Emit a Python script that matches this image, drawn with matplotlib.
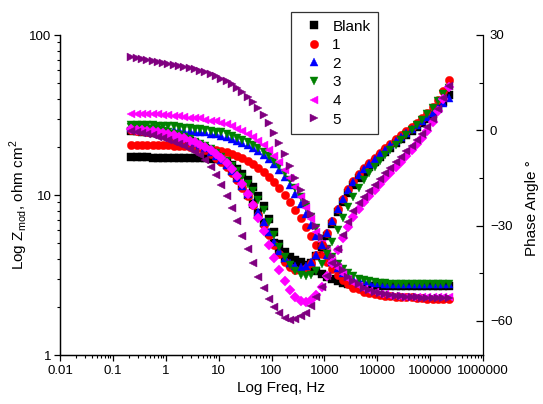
import matplotlib
matplotlib.use("Agg")
import matplotlib.pyplot as plt
from matplotlib.ticker import MultipleLocator, LogLocator, NullFormatter

plt.rcParams["font.family"] = ["Liberation Sans", "DejaVu Sans"]
plt.rcParams["mathtext.fontset"] = "custom"
plt.rcParams["mathtext.rm"] = "Liberation Sans"

# Frequency sweep, Hz
freq = [0.224, 0.282, 0.355, 0.447, 0.562, 0.708, 0.891, 1.12, 1.41, 1.78,
        2.24, 2.82, 3.55, 4.47, 5.62, 7.08, 8.91, 11.2, 14.1, 17.8,
        22.4, 28.2, 35.5, 44.7, 56.2, 70.8, 89.1, 112, 141, 178,
        224, 282, 355, 447, 562, 708, 891, 1120, 1410, 1780,
        2240, 2820, 3550, 4470, 5620, 7080, 8910, 11200, 14100, 17800,
        22400, 28200, 35500, 44700, 56200, 70800, 89100, 112000, 141000, 178000,
        224000]

# |Z|, ohm cm2
zmod_blank = [17.2, 17.2, 17.2, 17.2, 17.1, 17.1, 17.1, 17.1, 17.1, 17.1,
              17.1, 17.0, 17.0, 17.0, 17.0, 16.9, 16.7, 16.6, 16.1, 15.4,
              14.6, 13.6, 12.4, 11.2, 9.86, 8.53, 7.07, 5.86, 4.92, 4.38,
              4.08, 3.91, 3.79, 3.63, 3.48, 3.33, 3.19, 3.06, 2.97, 2.88,
              2.80, 2.76, 2.72, 2.70, 2.70, 2.70, 2.70, 2.70, 2.70, 2.70,
              2.70, 2.70, 2.70, 2.70, 2.70, 2.70, 2.70, 2.70, 2.70, 2.70,
              2.70]
zmod_1 = [20.6, 20.6, 20.6, 20.6, 20.6, 20.5, 20.5, 20.5, 20.3, 20.3,
          20.2, 20.0, 19.9, 19.8, 19.6, 19.5, 19.2, 18.9, 18.5, 18.1,
          17.6, 17.1, 16.4, 15.7, 14.8, 14.0, 13.0, 12.1, 11.1, 10.0,
          9.04, 8.05, 7.17, 6.30, 5.53, 4.85, 4.26, 3.79, 3.43, 3.15,
          2.93, 2.76, 2.64, 2.57, 2.49, 2.44, 2.41, 2.37, 2.35, 2.34,
          2.32, 2.30, 2.29, 2.29, 2.27, 2.27, 2.25, 2.25, 2.25, 2.25,
          2.25]
zmod_2 = [26.0, 26.0, 26.0, 26.0, 26.0, 25.8, 25.8, 25.6, 25.6, 25.5,
          25.3, 25.1, 24.9, 24.7, 24.6, 24.2, 23.9, 23.5, 23.0, 22.5,
          21.9, 21.2, 20.5, 19.8, 18.8, 17.9, 16.9, 15.7, 14.4, 13.0,
          11.6, 10.2, 8.8, 7.60, 6.48, 5.53, 4.78, 4.20, 3.79, 3.48,
          3.24, 3.10, 2.99, 2.93, 2.88, 2.84, 2.82, 2.80, 2.78, 2.76,
          2.76, 2.76, 2.76, 2.76, 2.76, 2.76, 2.76, 2.76, 2.76, 2.76,
          2.76]
zmod_3 = [27.4, 27.4, 27.2, 27.2, 27.2, 27.0, 27.0, 26.8, 26.8, 26.6,
          26.4, 26.2, 26.0, 25.8, 25.6, 25.3, 24.9, 24.6, 24.0, 23.5,
          22.8, 22.2, 21.4, 20.6, 19.6, 18.6, 17.6, 16.4, 15.1, 13.8,
          12.4, 11.1, 9.7, 8.4, 7.3, 6.2, 5.3, 4.6, 4.1, 3.7,
          3.43, 3.24, 3.10, 2.99, 2.93, 2.88, 2.84, 2.82, 2.80, 2.78,
          2.76, 2.76, 2.76, 2.76, 2.76, 2.76, 2.76, 2.76, 2.76, 2.76,
          2.76]
zmod_4 = [32.3, 32.3, 32.1, 32.1, 31.9, 31.9, 31.6, 31.4, 31.2, 31.0,
          30.7, 30.5, 30.3, 30.1, 29.6, 29.2, 28.8, 28.2, 27.6, 26.8,
          26.0, 25.1, 24.2, 23.2, 21.9, 20.6, 19.2, 17.6, 16.0, 14.4,
          12.8, 11.2, 9.7, 8.3, 7.1, 5.9, 5.1, 4.4, 3.85, 3.5,
          3.2, 2.97, 2.80, 2.68, 2.58, 2.51, 2.46, 2.42, 2.39, 2.35,
          2.34, 2.32, 2.32, 2.30, 2.30, 2.29, 2.29, 2.29, 2.29, 2.29,
          2.29]
zmod_5 = [72.8, 71.7, 70.7, 69.6, 68.6, 67.6, 66.7, 65.7, 64.7, 63.8,
          62.9, 62.0, 61.1, 59.8, 58.5, 56.9, 55.2, 53.3, 51.4, 49.2,
          46.4, 43.8, 40.7, 37.9, 34.8, 31.4, 28.0, 24.5, 21.2, 18.1,
          15.2, 12.8, 10.7, 9.04, 7.60, 6.38, 5.44, 4.71, 4.13, 3.68,
          3.38, 3.09, 2.92, 2.76, 2.64, 2.56, 2.49, 2.45, 2.42, 2.38,
          2.35, 2.35, 2.32, 2.32, 2.32, 2.28, 2.28, 2.28, 2.28, 2.28,
          2.28]

# Phase angle, degrees
phase_blank = [-0.3, -0.3, -0.5, -0.6, -0.8, -0.9, -1.3, -1.6, -1.9, -2.4,
               -2.8, -3.5, -4.1, -4.9, -5.7, -6.8, -8.0, -9.4, -11.0, -12.9,
               -15.1, -17.6, -20.3, -23.1, -26.1, -29.3, -32.4, -35.6, -38.4, -40.6,
               -42.2, -43.1, -43.4, -43.1, -41.9, -39.6, -36.8, -33.4, -29.6, -25.8,
               -22.7, -19.8, -17.3, -15.1, -13.2, -11.5, -9.9, -8.3, -6.9, -5.5,
               -4.1, -2.8, -1.6, -0.3, 0.9, 2.2, 3.6, 5.2, 6.9, 8.8,
               11.0]
phase_1 = [0.0, -0.2, -0.3, -0.5, -0.6, -0.9, -1.3, -1.6, -2.1, -2.5,
           -3.2, -3.8, -4.6, -5.4, -6.3, -7.4, -8.7, -10.1, -11.6, -13.5,
           -15.7, -18.2, -20.8, -23.6, -26.7, -29.9, -33.0, -36.2, -39.0, -41.5,
           -43.1, -44.1, -44.1, -43.4, -41.9, -39.3, -36.2, -32.4, -28.6, -24.9,
           -21.7, -18.6, -16.0, -13.8, -12.0, -10.2, -8.7, -7.1, -5.7, -4.3,
           -2.8, -1.6, -0.3, 0.9, 2.4, 3.8, 5.4, 7.2, 9.4, 12.3,
           15.7]
phase_2 = [0.6, 0.5, 0.3, 0.2, 0.0, -0.3, -0.6, -0.9, -1.4, -1.9,
           -2.5, -3.2, -3.9, -4.7, -5.7, -6.8, -8.0, -9.4, -11.0, -12.9,
           -15.1, -17.6, -20.1, -23.0, -25.8, -28.9, -32.1, -35.2, -38.1, -40.3,
           -41.9, -42.8, -43.1, -42.8, -41.5, -39.3, -36.2, -32.4, -28.6, -24.9,
           -21.7, -18.9, -16.4, -14.2, -12.3, -10.7, -9.1, -7.6, -6.1, -4.7,
           -3.5, -2.2, -0.9, 0.3, 1.6, 2.8, 4.1, 5.5, 6.9, 8.5,
           10.1]
phase_3 = [0.9, 0.8, 0.6, 0.5, 0.3, 0.0, -0.3, -0.6, -1.1, -1.6,
           -2.2, -2.8, -3.6, -4.2, -5.0, -6.0, -7.1, -8.3, -9.8, -11.3,
           -12.9, -14.8, -17.0, -19.2, -22.0, -25.2, -28.9, -33.0, -36.8, -40.0,
           -42.5, -44.4, -45.6, -45.9, -45.6, -44.4, -42.2, -39.0, -35.2, -31.5,
           -27.7, -24.2, -21.1, -18.3, -15.7, -13.5, -11.5, -9.6, -7.9, -6.3,
           -4.7, -3.1, -1.6, 0.0, 1.6, 3.1, 5.0, 6.9, 9.1, 11.3,
           13.2]
phase_4 = [0.3, 0.2, 0.0, -0.2, -0.3, -0.6, -0.9, -1.3, -1.6, -2.1,
           -2.5, -3.2, -3.8, -4.6, -5.4, -6.3, -7.6, -8.8, -10.4, -12.3,
           -14.5, -17.0, -20.1, -23.6, -27.7, -31.8, -36.2, -40.3, -44.1, -47.5,
           -50.3, -52.5, -53.8, -54.1, -53.5, -51.9, -49.4, -45.9, -41.9, -37.8,
           -34.0, -30.5, -27.4, -24.9, -22.7, -20.8, -18.9, -17.0, -15.1, -13.4,
           -11.6, -9.9, -8.2, -6.3, -4.4, -2.5, -0.3, 2.5, 6.0, 9.8,
           13.5]
phase_5 = [-0.3, -0.6, -0.9, -1.3, -1.6, -2.1, -2.5, -3.0, -3.6, -4.3,
           -5.0, -5.8, -6.8, -7.9, -9.4, -11.6, -14.2, -17.3, -20.8, -24.5,
           -28.6, -33.4, -37.4, -41.9, -46.3, -49.7, -53.2, -55.7, -57.6, -59.2,
           -59.8, -59.5, -58.5, -57.6, -55.4, -52.5, -49.4, -45.9, -41.9, -37.4,
           -33.0, -28.9, -25.5, -23.0, -21.1, -19.2, -17.3, -15.4, -13.5, -11.8,
           -10.1, -8.5, -6.6, -5.0, -3.1, -1.3, 0.9, 3.5, 6.6, 10.1,
           13.8]

labels = ["Blank", "1", "2", "3", "4", "5"]
colors = ["black", "red", "blue", "green", "magenta", "purple"]
zmod = [zmod_blank, zmod_1, zmod_2, zmod_3, zmod_4, zmod_5]
phase = [phase_blank, phase_1, phase_2, phase_3, phase_4, phase_5]
zmod_markers = ["s", "o", "^", "v", "<", ">"]
phase_markers = ["s", "o", "^", "v", "D", "<"]

x_ticks = [0.01, 0.1, 1, 10, 100, 1000, 10000, 100000, 1000000]
x_tick_labels = ["0.01", "0.1", "1", "10", "100", "1000", "10000", "100000", "1000000"]
z_ticks = [1, 10, 100]
phase_ticks = [30, 0, -30, -60]

fig = plt.figure(figsize=(5.43, 4.04), dpi=100)
ax = fig.add_axes([60 / 543, 49 / 404, 423 / 543, 320 / 404])
ax2 = ax.twinx()

def marker_size(m):
    return 5.0 if m == "D" else 6.0

handles = []
for z, c, m, lab in zip(zmod, colors, zmod_markers, labels):
    h, = ax.plot(freq, z, ls="none", marker=m, ms=marker_size(m), color=c,
                 mec=c, mew=0.3, label=lab)
    handles.append(h)

# phase layer sits above the modulus layer
for p, c, m in zip(phase, colors, phase_markers):
    ax2.plot(freq, p, ls="none", marker=m, ms=marker_size(m), color=c,
             mec=c, mew=0.3)

ax.set_xscale("log")
ax.set_yscale("log")
ax.set_xlim(0.01, 1000000)
ax.set_ylim(1, 100)
ax.set_xticks(x_ticks)
ax.set_xticklabels(x_tick_labels)
ax.xaxis.set_minor_locator(LogLocator(base=10, subs=range(2, 10), numticks=20))
ax.xaxis.set_minor_formatter(NullFormatter())
ax.set_yticks(z_ticks)
ax.set_yticklabels([str(t) for t in z_ticks])
ax.yaxis.set_minor_locator(LogLocator(base=10, subs=range(2, 10), numticks=20))
ax.yaxis.set_minor_formatter(NullFormatter())

ax2.set_ylim(-70.7, 30)
ax2.set_yticks(phase_ticks)
ax2.yaxis.set_minor_locator(MultipleLocator(15))

for a in (ax, ax2):
    a.spines["top"].set_visible(False)
    for s in a.spines.values():
        s.set_linewidth(0.9)
ax.spines["right"].set_visible(False)

ax.tick_params(which="major", direction="out", length=4, width=0.9, labelsize=9.5, pad=2)
ax.tick_params(which="minor", direction="out", length=2.5, width=0.8)
ax.tick_params(axis="x", which="major", pad=3)
ax2.tick_params(which="major", direction="in", length=5, width=0.9, labelsize=9.5, pad=5)
ax2.tick_params(which="minor", direction="in", length=3, width=0.8)

ax.set_xlabel("Log Freq, Hz", fontsize=11)
ax.xaxis.set_label_coords(0.522, -0.08)
ax.set_ylabel(r"Log Z$_{\mathregular{mod}}$, ohm cm$^{\mathregular{2}}$", fontsize=11)
ax.yaxis.set_label_coords(-0.071, 0.47)
ax2.set_ylabel("Phase Angle °", fontsize=11)
ax2.yaxis.set_label_coords(1.1, 0.46)

leg = ax2.legend(handles=handles, loc="upper left",
                 bbox_to_anchor=(291 / 543, 1 - 12 / 404),
                 bbox_transform=fig.transFigure, borderaxespad=0,
                 fontsize=11, frameon=True, fancybox=False, numpoints=1,
                 handlelength=2.0, handletextpad=0.2, borderpad=0.5,
                 labelspacing=0.3)
leg.get_frame().set_edgecolor("black")
leg.get_frame().set_linewidth(0.9)

fig.savefig("out.png", dpi=100)
